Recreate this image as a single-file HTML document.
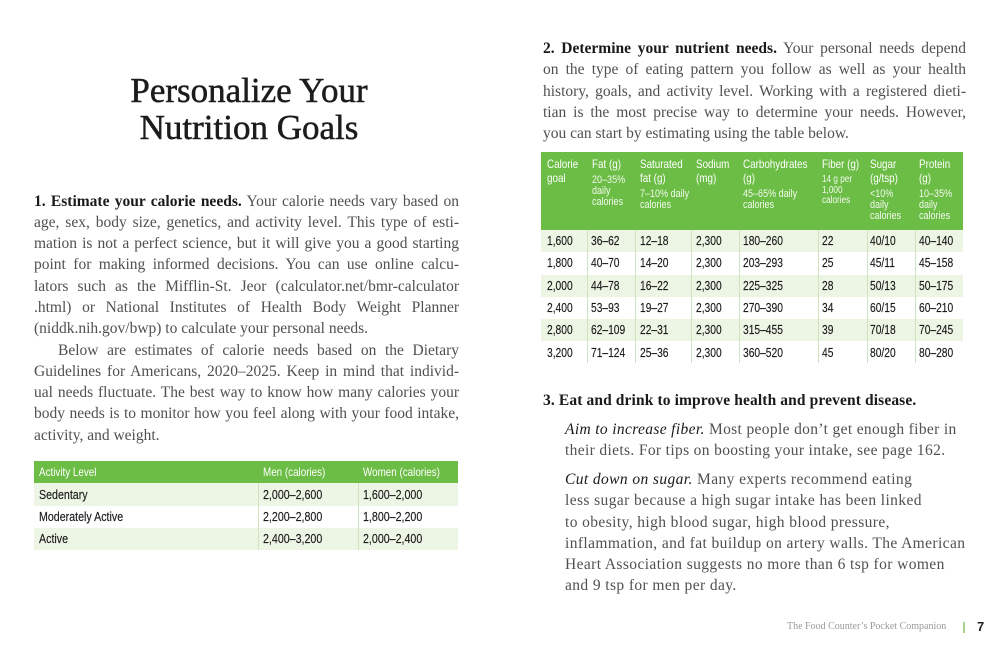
<!DOCTYPE html>
<html>
<head>
<meta charset="utf-8">
<style>
  html, body { margin:0; padding:0; }
  body { width:1000px; height:650px; background:#fff; position:relative; overflow:hidden;
         font-family:"Liberation Serif", serif; }
  .abs { position:absolute; }
  .title { left:0; width:498px; top:72px; text-align:center; font-size:35px; line-height:37px; color:#1c1c1c; -webkit-text-stroke:0.5px #1c1c1c; }
  .para { font-size:15.5px; line-height:21.3px; color:#505050; }
  .para b { color:#1a1a1a; }
  .j { text-align:justify; text-align-last:justify; }
  .sans { font-family:"Liberation Sans",sans-serif; transform:scaleX(0.82); transform-origin:0 0; white-space:nowrap; }
  .green { background:#6cbd45; }
  .light { background:#edf5e5; }
  .vline { position:absolute; width:1px; background:#cfe3bf; }
  .th { position:absolute; top:157px; color:#fff; font-size:12px; line-height:14px; }
  .th .sub { margin-top:4px; font-size:11px; line-height:11.2px; color:#f2f9ee; }
  .th .sub.s { font-size:10px; line-height:10.5px; }
  .td { position:absolute; font-size:12.5px; color:#1a1a1a; line-height:22.3px; -webkit-text-stroke:0.15px #1a1a1a; }
  .ltd { position:absolute; font-size:13px; color:#1a1a1a; line-height:22px; -webkit-text-stroke:0.15px #1a1a1a; }
</style>
</head>
<body>

<div class="abs title">Personalize Your<br>Nutrition Goals</div>

<!-- Left paragraph -->
<div class="abs para" style="left:34px; top:190.5px; width:425px;">
  <div class="j"><b>1. Estimate your calorie needs.</b> Your calorie needs vary based on</div>
  <div class="j">age, sex, body size, genetics, and activity level. This type of esti-</div>
  <div class="j">mation is not a perfect science, but it will give you a good starting</div>
  <div class="j">point for making informed decisions. You can use online calcu-</div>
  <div class="j">lators such as the Mifflin-St. Jeor (calculator.net/bmr-calculator</div>
  <div class="j">.html) or National Institutes of Health Body Weight Planner</div>
  <div>(niddk.nih.gov/bwp) to calculate your personal needs.</div>
  <div class="j" style="padding-left:24px;">Below are estimates of calorie needs based on the Dietary</div>
  <div class="j">Guidelines for Americans, 2020–2025. Keep in mind that individ-</div>
  <div class="j">ual needs fluctuate. The best way to know how many calories your</div>
  <div class="j">body needs is to monitor how you feel along with your food intake,</div>
  <div>activity, and weight.</div>
</div>

<!-- Left table -->
<div class="abs green" style="left:34px; top:461px; width:424px; height:22px;"></div>
<div class="abs light" style="left:34px; top:483px; width:424px; height:23px;"></div>
<div class="abs light" style="left:34px; top:528px; width:424px; height:22px;"></div>
<div class="vline" style="left:258px; top:483px; height:67px;"></div>
<div class="vline" style="left:358px; top:483px; height:67px;"></div>
<div class="abs sans" style="left:39px; top:461px; line-height:22px; font-size:12px; color:#fff;">Activity Level</div>
<div class="abs sans" style="left:263px; top:461px; line-height:22px; font-size:12px; color:#fff;">Men (calories)</div>
<div class="abs sans" style="left:363px; top:461px; line-height:22px; font-size:12px; color:#fff;">Women (calories)</div>

<div class="ltd sans" style="left:39px; top:483.5px;">Sedentary</div>
<div class="ltd sans" style="left:263px; top:483.5px;">2,000–2,600</div>
<div class="ltd sans" style="left:363px; top:483.5px;">1,600–2,000</div>
<div class="ltd sans" style="left:39px; top:506px;">Moderately Active</div>
<div class="ltd sans" style="left:263px; top:506px;">2,200–2,800</div>
<div class="ltd sans" style="left:363px; top:506px;">1,800–2,200</div>
<div class="ltd sans" style="left:39px; top:528px;">Active</div>
<div class="ltd sans" style="left:263px; top:528px;">2,400–3,200</div>
<div class="ltd sans" style="left:363px; top:528px;">2,000–2,400</div>

<!-- Right paragraph 2 -->
<div class="abs para" style="left:543px; top:38px; width:423px;">
  <div class="j"><b>2. Determine your nutrient needs.</b> Your personal needs depend</div>
  <div class="j">on the type of eating pattern you follow as well as your health</div>
  <div class="j">history, goals, and activity level. Working with a registered dieti-</div>
  <div class="j">tian is the most precise way to determine your needs. However,</div>
  <div>you can start by estimating using the table below.</div>
</div>

<!-- Right table -->
<div class="abs green" style="left:541px; top:152px; width:422px; height:78px;"></div>
<div class="abs light" style="left:541px; top:230px; width:422px; height:22.3px;"></div>
<div class="abs light" style="left:541px; top:274.6px; width:422px; height:22.3px;"></div>
<div class="abs light" style="left:541px; top:319.2px; width:422px; height:22.3px;"></div>
<div class="vline" style="left:587px; top:230px; height:133px;"></div>
<div class="vline" style="left:635px; top:230px; height:133px;"></div>
<div class="vline" style="left:691px; top:230px; height:133px;"></div>
<div class="vline" style="left:739px; top:230px; height:133px;"></div>
<div class="vline" style="left:818px; top:230px; height:133px;"></div>
<div class="vline" style="left:867px; top:230px; height:133px;"></div>
<div class="vline" style="left:915px; top:230px; height:133px;"></div>

<div class="th sans" style="left:547px;">Calorie<br>goal</div>
<div class="th sans" style="left:592px;">Fat (g)<div class="sub">20–35%<br>daily<br>calories</div></div>
<div class="th sans" style="left:640px;">Saturated<br>fat (g)<div class="sub">7–10% daily<br>calories</div></div>
<div class="th sans" style="left:696px;">Sodium<br>(mg)</div>
<div class="th sans" style="left:743px;">Carbohydrates<br>(g)<div class="sub">45–65% daily<br>calories</div></div>
<div class="th sans" style="left:822px;">Fiber (g)<div class="sub s">14 g per<br>1,000<br>calories</div></div>
<div class="th sans" style="left:870px;">Sugar<br>(g/tsp)<div class="sub">&lt;10%<br>daily<br>calories</div></div>
<div class="th sans" style="left:919px;">Protein<br>(g)<div class="sub">10–35%<br>daily<br>calories</div></div>

<!-- body rows -->
<div class="abs" style="left:0; top:230px;">
  <div class="td sans" style="left:547px; top:0px;">1,600</div>
  <div class="td sans" style="left:591px; top:0px;">36–62</div>
  <div class="td sans" style="left:640px; top:0px;">12–18</div>
  <div class="td sans" style="left:696px; top:0px;">2,300</div>
  <div class="td sans" style="left:743px; top:0px;">180–260</div>
  <div class="td sans" style="left:822px; top:0px;">22</div>
  <div class="td sans" style="left:870px; top:0px;">40/10</div>
  <div class="td sans" style="left:919px; top:0px;">40–140</div>

  <div class="td sans" style="left:547px; top:22.3px;">1,800</div>
  <div class="td sans" style="left:591px; top:22.3px;">40–70</div>
  <div class="td sans" style="left:640px; top:22.3px;">14–20</div>
  <div class="td sans" style="left:696px; top:22.3px;">2,300</div>
  <div class="td sans" style="left:743px; top:22.3px;">203–293</div>
  <div class="td sans" style="left:822px; top:22.3px;">25</div>
  <div class="td sans" style="left:870px; top:22.3px;">45/11</div>
  <div class="td sans" style="left:919px; top:22.3px;">45–158</div>

  <div class="td sans" style="left:547px; top:44.6px;">2,000</div>
  <div class="td sans" style="left:591px; top:44.6px;">44–78</div>
  <div class="td sans" style="left:640px; top:44.6px;">16–22</div>
  <div class="td sans" style="left:696px; top:44.6px;">2,300</div>
  <div class="td sans" style="left:743px; top:44.6px;">225–325</div>
  <div class="td sans" style="left:822px; top:44.6px;">28</div>
  <div class="td sans" style="left:870px; top:44.6px;">50/13</div>
  <div class="td sans" style="left:919px; top:44.6px;">50–175</div>

  <div class="td sans" style="left:547px; top:66.9px;">2,400</div>
  <div class="td sans" style="left:591px; top:66.9px;">53–93</div>
  <div class="td sans" style="left:640px; top:66.9px;">19–27</div>
  <div class="td sans" style="left:696px; top:66.9px;">2,300</div>
  <div class="td sans" style="left:743px; top:66.9px;">270–390</div>
  <div class="td sans" style="left:822px; top:66.9px;">34</div>
  <div class="td sans" style="left:870px; top:66.9px;">60/15</div>
  <div class="td sans" style="left:919px; top:66.9px;">60–210</div>

  <div class="td sans" style="left:547px; top:89.2px;">2,800</div>
  <div class="td sans" style="left:591px; top:89.2px;">62–109</div>
  <div class="td sans" style="left:640px; top:89.2px;">22–31</div>
  <div class="td sans" style="left:696px; top:89.2px;">2,300</div>
  <div class="td sans" style="left:743px; top:89.2px;">315–455</div>
  <div class="td sans" style="left:822px; top:89.2px;">39</div>
  <div class="td sans" style="left:870px; top:89.2px;">70/18</div>
  <div class="td sans" style="left:919px; top:89.2px;">70–245</div>

  <div class="td sans" style="left:547px; top:111.5px;">3,200</div>
  <div class="td sans" style="left:591px; top:111.5px;">71–124</div>
  <div class="td sans" style="left:640px; top:111.5px;">25–36</div>
  <div class="td sans" style="left:696px; top:111.5px;">2,300</div>
  <div class="td sans" style="left:743px; top:111.5px;">360–520</div>
  <div class="td sans" style="left:822px; top:111.5px;">45</div>
  <div class="td sans" style="left:870px; top:111.5px;">80/20</div>
  <div class="td sans" style="left:919px; top:111.5px;">80–280</div>
</div>

<!-- Section 3 -->
<div class="abs para" style="left:543px; top:389.8px; width:440px; white-space:nowrap; letter-spacing:0.12px;">
  <b>3. Eat and drink to improve health and prevent disease.</b>
</div>
<div class="abs para" style="left:565px; top:419px; width:420px; white-space:nowrap; letter-spacing:0.35px;">
  <i style="color:#1a1a1a;">Aim to increase fiber.</i> Most people don’t get enough fiber in<br>
  their diets. For tips on boosting your intake, see page 162.
</div>
<div class="abs para" style="left:565px; top:469px; width:420px; white-space:nowrap; letter-spacing:0.4px;">
  <i style="color:#1a1a1a;">Cut down on sugar.</i> Many experts recommend eating<br>
  less sugar because a high sugar intake has been linked<br>
  to obesity, high blood sugar, high blood pressure,<br>
  inflammation, and fat buildup on artery walls. The American<br>
  Heart Association suggests no more than 6 tsp for women<br>
  and 9 tsp for men per day.
</div>

<!-- Footer -->
<div class="abs" style="left:787px; top:620px; font-size:10px; line-height:14px; color:#9a9a9a; white-space:nowrap;">The Food Counter’s Pocket Companion</div>
<div class="abs" style="left:963px; top:622px; width:2px; height:11px; background:#a9d38f;"></div>
<div class="abs" style="left:977px; top:619px; font-family:'Liberation Sans',sans-serif; font-weight:bold; font-size:13px; line-height:16px; color:#222;">7</div>

</body>
</html>
